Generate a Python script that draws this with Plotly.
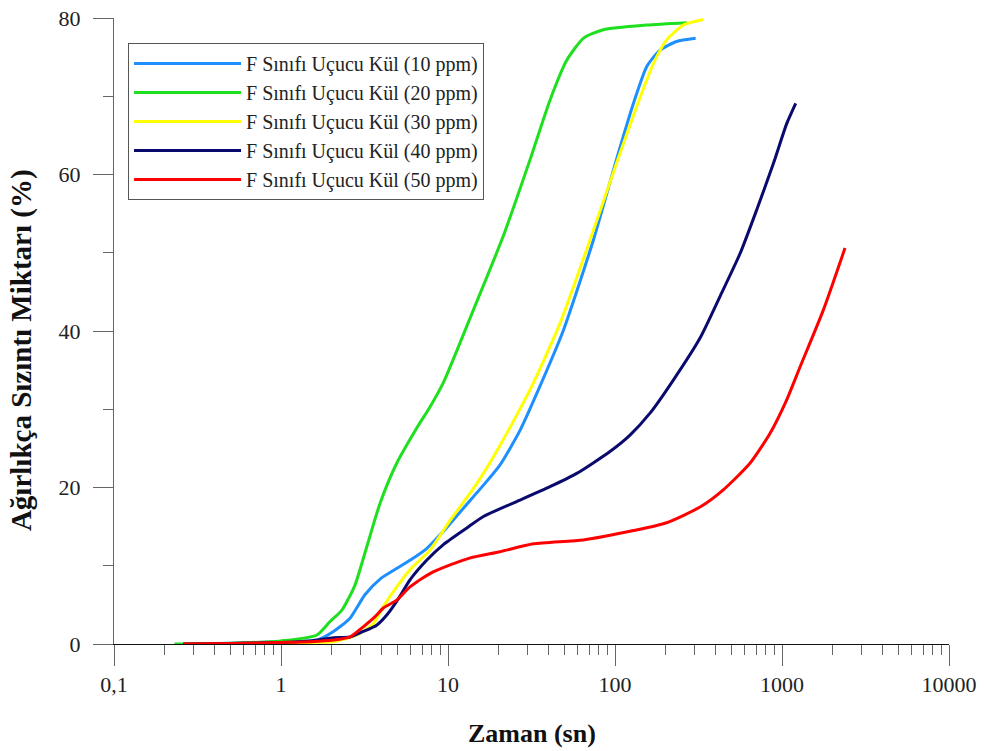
import plotly.graph_objects as go

# ---- data (time in s, cumulative leachate %) ----
x10 = [0.26, 0.5, 1.0, 1.64, 2.06, 2.59, 3.18, 3.92, 4.71, 5.92, 7.45, 9.38, 12.9, 16.3, 20.5,
       27.0, 34.8, 49.1, 74.2, 102, 129, 155, 186, 234, 304]
y10 = [0.0, 0.1, 0.3, 0.5, 1.6, 3.3, 6.3, 8.3, 9.4, 10.7, 12.2, 14.4, 17.8, 20.3, 22.9,
       27.3, 32.5, 40.1, 51.6, 61.9, 69.1, 73.8, 75.9, 77.0, 77.4]

x20 = [0.23, 0.5, 1.0, 1.64, 1.96, 2.31, 2.77, 3.26, 3.92, 4.93, 6.5, 7.8, 9.38, 14.2, 21.4,
       31.0, 40.8, 51.4, 64.6, 85.1, 155, 269]
y20 = [0.0, 0.1, 0.4, 1.15, 2.85, 4.3, 7.5, 12.4, 18.0, 23.1, 27.6, 30.3, 33.4, 42.7, 52.1,
       61.9, 69.5, 74.6, 77.4, 78.5, 79.1, 79.4]

x30 = [0.26, 0.5, 1.0, 1.5, 2.06, 2.84, 3.57, 4.10, 4.93, 5.92, 7.8, 10.3, 13.6, 16.3, 20.5,
       31.0, 46.9, 70.8, 102, 135, 170, 204, 257, 338]
y30 = [0.0, 0.0, 0.1, 0.2, 0.3, 1.15, 2.6, 4.8, 7.3, 9.5, 12.0, 15.8, 19.3, 21.8, 25.4,
       32.5, 41.0, 51.6, 61.4, 68.7, 74.2, 77.2, 79.1, 79.8]

x40 = [0.26, 0.5, 1.0, 1.5, 2.06, 2.59, 3.11, 3.74, 4.30, 5.05, 5.92, 7.45, 9.38, 12.9, 16.3,
       25.8, 40.8, 59.0, 93.3, 123, 162, 223, 323, 425, 561, 706, 888, 1067, 1208]
y40 = [0.0, 0.05, 0.2, 0.4, 0.8, 0.9, 1.6, 2.4, 3.7, 5.8, 8.2, 10.7, 12.7, 14.8, 16.3,
       18.2, 20.1, 21.8, 24.6, 26.7, 29.5, 33.7, 39.1, 44.4, 49.9, 55.5, 61.4, 66.5, 69.1]

x50 = [0.26, 0.5, 1.0, 1.5, 2.06, 2.59, 3.11, 3.66, 4.10, 4.93, 5.92, 7.8, 10.3, 13.6, 20.5,
       32.5, 64.6, 129, 204, 323, 445, 643, 847, 1067, 1282, 1770, 2384]
y50 = [0.0, 0.05, 0.2, 0.3, 0.5, 0.9, 2.2, 3.5, 4.6, 5.6, 7.3, 9.0, 10.1, 11.0, 11.8,
       12.8, 13.3, 14.5, 15.5, 17.5, 19.7, 23.1, 26.9, 31.2, 35.4, 42.7, 50.6]

names = ["F Sınıfı Uçucu Kül (10 ppm)", "F Sınıfı Uçucu Kül (20 ppm)",
         "F Sınıfı Uçucu Kül (30 ppm)", "F Sınıfı Uçucu Kül (40 ppm)",
         "F Sınıfı Uçucu Kül (50 ppm)"]
colors = ["#1E8FFF", "#1EE01E", "#FFFF00", "#0A0A6E", "#FF0000"]
series = [(x10, y10), (x20, y20), (x30, y30), (x40, y40), (x50, y50)]

x_major = [0.1, 1, 10, 100, 1000, 10000]
x_major_text = ["0,1", "1", "10", "100", "1000", "10000"]
x_minor = [m * d for d in [0.1, 1, 10, 100, 1000] for m in range(2, 10)]
y_major = [0, 20, 40, 60, 80]
y_minor = [10, 30, 50, 70]

FONT = "Liberation Serif, Times New Roman, serif"

fig = go.Figure()
for i, ((xs, ys), nm, c) in enumerate(zip(series, names, colors)):
    fig.add_trace(go.Scatter(x=xs, y=ys, mode="lines", name=nm, legendgroup=f"g{i}",
                             line=dict(color=c, width=3, shape="spline", smoothing=0.6)))

fig.update_layout(
    width=984, height=751,
    margin=dict(l=114, r=35, t=18, b=107, autoexpand=False),
    paper_bgcolor="white", plot_bgcolor="white",
    font=dict(family=FONT, color="#222"),
    showlegend=True,
    legend=dict(x=0.0168, y=0.96, xanchor="left", yanchor="top",
                bordercolor="#555", borderwidth=1, bgcolor="white",
                font=dict(family=FONT, size=20, color="#222"),
                tracegroupgap=0, itemwidth=107,
                traceorder="normal"),
    xaxis=dict(type="log", range=[-1, 4], showgrid=False, zeroline=False, automargin=False,
               showline=True, linecolor="#111", linewidth=1,
               tickmode="array", tickvals=x_major, ticktext=x_major_text,
               ticks="outside", ticklen=21, tickcolor="#666", tickwidth=1,
               tickfont=dict(family=FONT, size=22, color="#222"),
               minor=dict(tickmode="array", tickvals=x_minor, ticks="outside",
                          ticklen=10, tickcolor="#666", tickwidth=1, showgrid=False)),
    yaxis=dict(range=[0, 80], showgrid=False, zeroline=False, automargin=False,
               showline=True, linecolor="#666", linewidth=1,
               tickmode="array", tickvals=y_major,
               ticks="outside", ticklen=20, tickcolor="#666", tickwidth=1,
               ticklabelstandoff=8,
               tickfont=dict(family=FONT, size=22, color="#222"),
               minor=dict(tickmode="array", tickvals=y_minor, ticks="outside",
                          ticklen=10, tickcolor="#666", tickwidth=1, showgrid=False)),
    annotations=[
        dict(text="<b>Zaman (sn)</b>", xref="paper", yref="paper", x=0.5, y=-0.1422,
             xanchor="center", yanchor="middle", showarrow=False,
             font=dict(family=FONT, size=26, color="#111")),
        dict(text="<b>Ağırlıkça Sızıntı Miktarı (%)</b>", xref="paper", yref="paper",
             x=-0.111, y=0.47, xanchor="center", yanchor="middle", textangle=-90,
             showarrow=False, font=dict(family=FONT, size=29, color="#111")),
    ],
)

fig.write_html("out.html")
